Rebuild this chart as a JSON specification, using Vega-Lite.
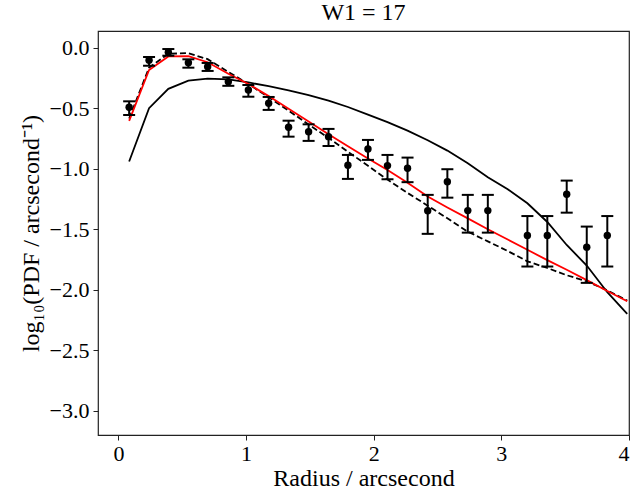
{
  "$schema": "https://vega.github.io/schema/vega-lite/v6.json",
  "autosize": {"type": "none"},
  "width": 531,
  "height": 404,
  "padding": {"left": 98, "top": 31, "right": 6, "bottom": 61},
  "background": "white",
  "title": {"text": "W1 = 17", "fontSize": 24, "font": "Liberation Serif", "fontWeight": "normal", "color": "black", "anchor": "middle", "offset": 6},
  "config": {
    "view": {"stroke": "#222", "strokeWidth": 1.2},
    "axis": {"labelFont": "Liberation Serif", "titleFont": "Liberation Serif", "labelFontSize": 22, "titleFontSize": 24, "titleFontWeight": "normal", "labelColor": "black", "titleColor": "black", "tickColor": "#222", "tickSize": 5, "domain": false, "grid": false}
  },
  "datasets": {
    "obs": [
      {"r": 0.084, "y": -0.492, "lo": -0.556, "hi": -0.443},
      {"r": 0.240, "y": -0.104, "lo": -0.149, "hi": -0.077},
      {"r": 0.391, "y": -0.038, "lo": -0.066, "hi": -0.011},
      {"r": 0.548, "y": -0.124, "lo": -0.165, "hi": -0.096},
      {"r": 0.699, "y": -0.157, "lo": -0.192, "hi": -0.126},
      {"r": 0.861, "y": -0.281, "lo": -0.315, "hi": -0.245},
      {"r": 1.018, "y": -0.349, "lo": -0.405, "hi": -0.308},
      {"r": 1.177, "y": -0.459, "lo": -0.514, "hi": -0.407},
      {"r": 1.333, "y": -0.657, "lo": -0.735, "hi": -0.603},
      {"r": 1.490, "y": -0.694, "lo": -0.770, "hi": -0.633},
      {"r": 1.646, "y": -0.735, "lo": -0.812, "hi": -0.671},
      {"r": 1.798, "y": -0.971, "lo": -1.084, "hi": -0.886},
      {"r": 1.955, "y": -0.837, "lo": -0.927, "hi": -0.762},
      {"r": 2.108, "y": -0.974, "lo": -1.087, "hi": -0.886},
      {"r": 2.265, "y": -0.996, "lo": -1.111, "hi": -0.908},
      {"r": 2.423, "y": -1.347, "lo": -1.538, "hi": -1.216},
      {"r": 2.577, "y": -1.107, "lo": -1.239, "hi": -1.004},
      {"r": 2.737, "y": -1.346, "lo": -1.528, "hi": -1.216},
      {"r": 2.894, "y": -1.346, "lo": -1.528, "hi": -1.216},
      {"r": 3.204, "y": -1.552, "lo": -1.808, "hi": -1.391},
      {"r": 3.360, "y": -1.552, "lo": -1.808, "hi": -1.391},
      {"r": 3.512, "y": -1.211, "lo": -1.363, "hi": -1.098},
      {"r": 3.669, "y": -1.648, "lo": -1.943, "hi": -1.478},
      {"r": 3.830, "y": -1.552, "lo": -1.808, "hi": -1.391}
    ],
    "models": [
      {"r": 0.084, "solid": -0.94, "dashed": -0.585, "red": -0.605},
      {"r": 0.240, "solid": -0.50, "dashed": -0.165, "red": -0.184},
      {"r": 0.391, "solid": -0.34, "dashed": -0.050, "red": -0.072},
      {"r": 0.548, "solid": -0.272, "dashed": -0.045, "red": -0.070},
      {"r": 0.699, "solid": -0.256, "dashed": -0.095, "red": -0.120},
      {"r": 0.861, "solid": -0.262, "dashed": -0.200, "red": -0.215},
      {"r": 1.018, "solid": -0.287, "dashed": -0.300, "red": -0.300},
      {"r": 1.177, "solid": -0.318, "dashed": -0.410, "red": -0.400},
      {"r": 1.333, "solid": -0.352, "dashed": -0.520, "red": -0.505},
      {"r": 1.490, "solid": -0.392, "dashed": -0.635, "red": -0.610},
      {"r": 1.646, "solid": -0.437, "dashed": -0.745, "red": -0.715},
      {"r": 1.798, "solid": -0.490, "dashed": -0.860, "red": -0.815},
      {"r": 1.955, "solid": -0.553, "dashed": -0.975, "red": -0.915},
      {"r": 2.108, "solid": -0.615, "dashed": -1.090, "red": -1.010},
      {"r": 2.265, "solid": -0.685, "dashed": -1.200, "red": -1.115},
      {"r": 2.423, "solid": -0.765, "dashed": -1.305, "red": -1.230},
      {"r": 2.577, "solid": -0.850, "dashed": -1.410, "red": -1.320},
      {"r": 2.737, "solid": -0.955, "dashed": -1.520, "red": -1.410},
      {"r": 2.894, "solid": -1.070, "dashed": -1.600, "red": -1.500},
      {"r": 3.050, "solid": -1.170, "dashed": -1.680, "red": -1.585},
      {"r": 3.204, "solid": -1.285, "dashed": -1.765, "red": -1.670},
      {"r": 3.360, "solid": -1.440, "dashed": -1.820, "red": -1.755},
      {"r": 3.512, "solid": -1.630, "dashed": -1.880, "red": -1.835},
      {"r": 3.669, "solid": -1.800, "dashed": -1.930, "red": -1.920},
      {"r": 3.830, "solid": -2.020, "dashed": -2.005, "red": -2.010},
      {"r": 3.986, "solid": -2.200, "dashed": -2.090, "red": -2.095}
    ]
  },
  "encoding": {
    "x": {"field": "r", "type": "quantitative", "scale": {"domain": [-0.16, 4.0], "nice": false, "zero": false}, "axis": {"values": [0, 1, 2, 3, 4], "format": "d", "title": "Radius / arcsecond", "labelPadding": 3, "titlePadding": 2}}
  },
  "layer": [
    {
      "data": {"name": "models"},
      "mark": {"type": "line", "color": "black", "strokeWidth": 1.8, "clip": true},
      "encoding": {"y": {"field": "solid", "type": "quantitative", "scale": {"domain": [-3.2, 0.138], "nice": false, "zero": false}, "axis": {"values": [0, -0.5, -1, -1.5, -2, -2.5, -3], "format": ".1f", "title": "log₁₀(PDF / arcsecond⁻¹)", "labelPadding": 4, "titlePadding": 6}}}
    },
    {
      "data": {"name": "models"},
      "mark": {"type": "line", "color": "black", "strokeWidth": 1.8, "strokeDash": [6, 3], "clip": true},
      "encoding": {"y": {"field": "dashed", "type": "quantitative"}}
    },
    {
      "data": {"name": "models"},
      "mark": {"type": "line", "color": "#ff0000", "strokeWidth": 1.8, "clip": true},
      "encoding": {"y": {"field": "red", "type": "quantitative"}}
    },
    {
      "data": {"name": "obs"},
      "mark": {"type": "rule", "color": "black", "strokeWidth": 2, "opacity": 1},
      "encoding": {"y": {"field": "lo", "type": "quantitative"}, "y2": {"field": "hi"}}
    },
    {
      "data": {"name": "obs"},
      "mark": {"type": "tick", "orient": "horizontal", "color": "black", "opacity": 1, "thickness": 2, "size": 12},
      "encoding": {"y": {"field": "lo", "type": "quantitative"}}
    },
    {
      "data": {"name": "obs"},
      "mark": {"type": "tick", "orient": "horizontal", "color": "black", "opacity": 1, "thickness": 2, "size": 12},
      "encoding": {"y": {"field": "hi", "type": "quantitative"}}
    },
    {
      "data": {"name": "obs"},
      "mark": {"type": "point", "filled": true, "color": "black", "opacity": 1, "size": 55},
      "encoding": {"y": {"field": "y", "type": "quantitative"}}
    }
  ]
}
